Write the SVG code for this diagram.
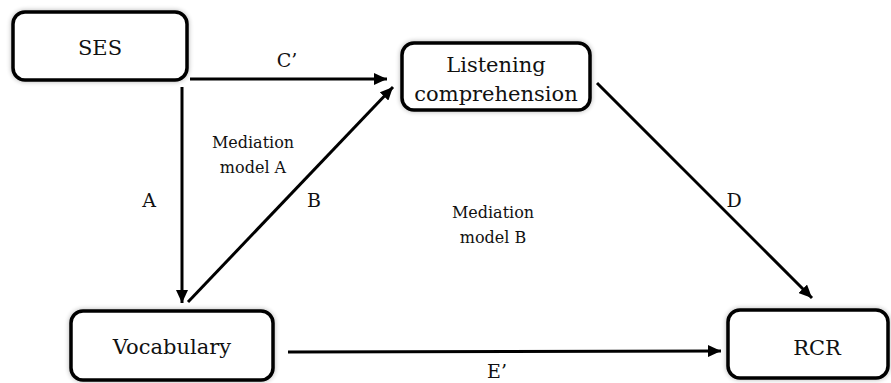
<svg xmlns="http://www.w3.org/2000/svg" width="891" height="383" viewBox="0 0 891 383">
<style>
.box{fill:#fff;stroke:#000;stroke-width:3.5;filter:url(#sh)}
text{font-family:'DejaVu Serif','Liberation Serif',serif;fill:#111;text-anchor:middle}
.t{font-size:21px}
.lbl{font-size:19px}
.med{font-size:16px}
.c{stroke:#000;stroke-width:3;fill:none;marker-end:url(#ah)}
</style>
<defs>
<filter id="sh" x="-20%" y="-20%" width="140%" height="140%">
<feGaussianBlur in="SourceAlpha" stdDeviation="2.5" result="b"/>
<feComponentTransfer in="b" result="s"><feFuncA type="linear" slope="0.3"/></feComponentTransfer>
<feMerge><feMergeNode in="s"/><feMergeNode in="SourceGraphic"/></feMerge>
</filter>
<marker id="ah" markerUnits="userSpaceOnUse" markerWidth="14" markerHeight="12" refX="13" refY="6" orient="auto">
<path d="M0,0 L13,6 L0,12 z" fill="#000"/>
</marker>
</defs>
<rect width="891" height="383" fill="#fff"/>
<g id="connectors">
<line class="c" x1="190" y1="79" x2="387" y2="79"/>
<line class="c" x1="182" y1="87" x2="182" y2="303"/>
<line class="c" x1="188" y1="302" x2="393" y2="87"/>
<line class="c" x1="597" y1="83" x2="812" y2="298"/>
<line class="c" x1="288" y1="352" x2="721" y2="351"/>
<text class="lbl" x="287" y="67">C’</text>
<text class="lbl" x="149" y="207">A</text>
<text class="lbl" x="314" y="207">B</text>
<text class="lbl" x="734" y="207">D</text>
<text class="lbl" x="497" y="378">E’</text>
</g>
<g id="SES">
<rect class="box" x="13" y="12" width="174" height="68" rx="12"/>
<text class="t" x="100" y="55">SES</text>
</g>
<g id="Listening">
<rect class="box" x="402" y="43" width="188" height="67" rx="12"/>
<text class="t" x="496" y="72">Listening</text>
<text class="t" x="496" y="101">comprehension</text>
</g>
<g id="Vocabulary">
<rect class="box" x="71" y="311" width="202" height="69" rx="12"/>
<text class="t" x="172" y="354">Vocabulary</text>
</g>
<g id="RCR">
<rect class="box" x="728" y="310" width="160" height="68" rx="12"/>
<text class="t" x="817" y="355">RCR</text>
</g>
<g id="mediationA">
<text class="med" x="253" y="148">Mediation</text>
<text class="med" x="253" y="173">model A</text>
</g>
<g id="mediationB">
<text class="med" x="493" y="218">Mediation</text>
<text class="med" x="493" y="243">model B</text>
</g>
</svg>
